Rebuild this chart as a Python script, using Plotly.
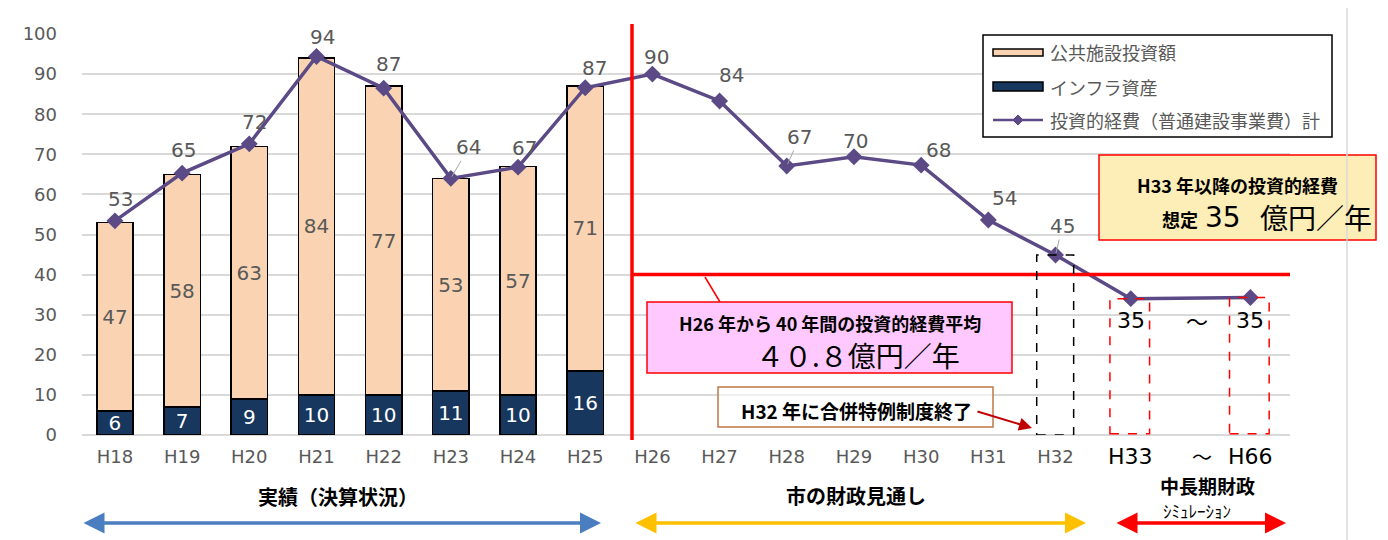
import plotly.graph_objects as go

# ---------------- data ----------------
years = ["H18", "H19", "H20", "H21", "H22", "H23", "H24", "H25",
         "H26", "H27", "H28", "H29", "H30", "H31", "H32"]
sim_years = ["H33", "H66"]
infra = [6, 7, 9, 10, 10, 11, 10, 16]            # インフラ資産
public = [47, 58, 63, 84, 77, 53, 57, 71]        # 公共施設投資額
invest = [53.4, 65.3, 72.6, 94.4, 86.5, 64.0, 66.8, 86.6,
          90.0, 83.3, 67.1, 69.4, 67.3, 53.6, 44.9]   # 投資的経費 計
invest_labels = ["53", "65", "72", "94", "87", "64", "67", "87",
                 "90", "84", "67", "70", "68", "54", "45"]
sim_invest = [34.0, 34.3]
sim_labels = ["35", "35"]
avg_line = 40.8

# ---------------- geometry helpers (reference pixel -> paper) ----------------
OFF = 8  # page body margin offset
L, R, T, B = 82, 1290, 34, 435
W, H = R - L, B - T
def px(x): return (x - L) / W
def py(y): return (B - y) / H

x_main = list(range(len(years)))
x_sim = [15.12, 16.9]
x_bar = x_main[:len(infra)]

GREY = "#595959"
NUMFONT = "DejaVu Sans"
JP = "Noto Sans CJK JP"
PURPLE = "#5B4A86"

fig = go.Figure()
fig.add_trace(go.Bar(
    x=x_bar, y=infra, width=0.54, name="インフラ資産",
    marker=dict(color="#17375E", line=dict(color="black", width=1.5)),
    text=[str(v) for v in infra], textposition="inside", insidetextanchor="middle",
    textangle=0, textfont=dict(color="white", size=20, family=NUMFONT), constraintext="none",
    showlegend=False))
fig.add_trace(go.Bar(
    x=x_bar, y=public, width=0.54, name="公共施設投資額",
    marker=dict(color="#FAD4B2", line=dict(color="black", width=1.5)),
    text=[str(v) for v in public], textposition="inside", insidetextanchor="middle",
    textangle=0, textfont=dict(color=GREY, size=20, family=NUMFONT), constraintext="none",
    showlegend=False))
fig.add_trace(go.Scatter(
    x=x_main + x_sim, y=invest + sim_invest, mode="lines+markers",
    name="投資的経費（普通建設事業費）計",
    line=dict(color=PURPLE, width=3.5),
    marker=dict(symbol="diamond", size=13, color=PURPLE),
    showlegend=False))

shapes = []
ann = []

def text_ann(x, y, text, size, color="black", family=JP, xanchor="center", **kw):
    d = dict(x=px(x), y=py(y), xref="paper", yref="paper", text=text, showarrow=False,
             xanchor=xanchor, yanchor="middle", font=dict(size=size, color=color, family=family))
    d.update(kw)
    ann.append(d)

# line value labels
offsets = [(6, -22), (1, -23), (5, -22), (6, -19), (5, -24), (18, -31), (6, -19), (9, -20),
           (4, -17), (12, -26), (13, -29), (2, -16), (17, -15), (16, -22), (7, -29)]
leader = {5, 10, 14}
for i, (xv, yv, lab) in enumerate(zip(x_main, invest, invest_labels)):
    dx, dy = offsets[i]
    if i in leader:
        ann.append(dict(x=xv, y=yv, xref="x", yref="y", text=lab, showarrow=True,
                        ax=dx, ay=dy, arrowhead=0, arrowwidth=1, arrowcolor="#A6A6A6",
                        standoff=2, font=dict(size=20, color=GREY, family=NUMFONT)))
    else:
        ann.append(dict(x=xv, y=yv, xref="x", yref="y", text=lab, showarrow=False,
                        xanchor="center", yanchor="middle",
                        xshift=dx, yshift=-dy, font=dict(size=20, color=GREY, family=NUMFONT)))

# simulation labels "35 〜 35"
for xv, lab in zip(x_sim, sim_labels):
    ann.append(dict(x=xv, y=py(320), xref="x", yref="paper", text=lab, showarrow=False,
                    xanchor="center", yanchor="middle",
                    font=dict(size=22, color="black", family=NUMFONT)))
text_ann(1197, 320, "〜", 22)
# H33 〜 H66 tick-like labels
for xv, lab in zip(x_sim, sim_years):
    ann.append(dict(x=xv, y=py(456), xref="x", yref="paper", text=lab, showarrow=False,
                    xanchor="center", yanchor="middle",
                    font=dict(size=22, color="black", family=NUMFONT)))
text_ann(1202, 456, "〜", 20)

# red average lines
shapes.append(dict(type="line", xref="paper", yref="y", x0=px(632), x1=1, y0=40, y1=40,
                   line=dict(color="#FF0000", width=3.5)))
shapes.append(dict(type="line", xref="paper", yref="paper", x0=px(632), x1=px(632),
                   y0=py(440), y1=py(24), line=dict(color="#FF0000", width=3.5)))
shapes.append(dict(type="line", xref="paper", yref="paper", x0=px(705), x1=px(720),
                   y0=py(277), y1=py(302), line=dict(color="#FF0000", width=1.5)))

# dashed boxes
shapes.append(dict(type="rect", xref="x", yref="y", x0=x_main[-1] - 0.28, x1=x_main[-1] + 0.27,
                   y0=0, y1=invest[-1], line=dict(color="black", width=1.5, dash="dash")))
for xv, yv in zip(x_sim, sim_invest):
    shapes.append(dict(type="rect", xref="x", yref="y", x0=xv - 0.31, x1=xv + 0.28,
                       y0=0.3, y1=yv, line=dict(color="#FF0000", width=1.5, dash="dash")))

# pink box
shapes.append(dict(type="rect", xref="paper", yref="paper", x0=px(647), x1=px(1012),
                   y0=py(373), y1=py(302), fillcolor="#FFC9FF",
                   line=dict(color="#FF0000", width=1.5), layer="above"))
text_ann(830, 323, "<b>H26 年から 40 年間の投資的経費平均</b>", 18)
text_ann(858, 355, "４０.８億円／年", 28)

# yellow box
shapes.append(dict(type="rect", xref="paper", yref="paper", x0=px(1099), x1=px(1376),
                   y0=py(240), y1=py(155), fillcolor="#FDEDB7",
                   line=dict(color="#FF0000", width=1.5), layer="above"))
text_ann(1237, 185, "<b>H33 年以降の投資的経費</b>", 18)
text_ann(1200, 219, "<b>想定</b>", 18, xanchor="right")
text_ann(1203, 217, "35", 28, family=NUMFONT, xanchor="left")
text_ann(1258, 217, "億円／年", 28, xanchor="left")

# brown box + arrow
shapes.append(dict(type="rect", xref="paper", yref="paper", x0=px(718), x1=px(993),
                   y0=py(427), y1=py(387), fillcolor="rgba(255,255,255,0.6)",
                   line=dict(color="#C07A45", width=1.5), layer="above"))
text_ann(856, 410, "<b>H32 年に合併特例制度終了</b>", 19)
ann.append(dict(x=px(1032), y=py(428), xref="paper", yref="paper", text="", showarrow=True,
                ax=-56, ay=-17, arrowhead=2, arrowsize=1.3, arrowwidth=2, arrowcolor="#C00000"))

# legend (custom)
shapes.append(dict(type="rect", xref="paper", yref="paper", x0=px(983), x1=px(1332),
                   y0=py(137), y1=py(35), fillcolor="white",
                   line=dict(color="black", width=1.5), layer="above"))
shapes.append(dict(type="rect", xref="paper", yref="paper", x0=px(993), x1=px(1043),
                   y0=py(56), y1=py(49), fillcolor="#FAD4B2",
                   line=dict(color="black", width=1.5), layer="above"))
shapes.append(dict(type="rect", xref="paper", yref="paper", x0=px(993), x1=px(1043),
                   y0=py(91), y1=py(82), fillcolor="#17375E",
                   line=dict(color="black", width=1.5), layer="above"))
shapes.append(dict(type="line", xref="paper", yref="paper", x0=px(993), x1=px(1043),
                   y0=py(120), y1=py(120), line=dict(color=PURPLE, width=2.5), layer="above"))
dpath = "M {a},{b} L {c},{d} L {e},{f} L {g},{h} Z".format(
    a=px(1013), b=py(120), c=px(1018), d=py(115), e=px(1023), f=py(120), g=px(1018), h=py(125))
shapes.append(dict(type="path", xref="paper", yref="paper", path=dpath,
                   fillcolor=PURPLE, line=dict(color=PURPLE, width=1), layer="above"))
for yy, lab in zip([52, 87, 120], ["公共施設投資額", "インフラ資産", "投資的経費（普通建設事業費）計"]):
    text_ann(1048, yy, lab, 18, color=GREY, xanchor="left")

# period labels & arrows
text_ann(338, 496, "<b>実績（決算状況）</b>", 20)
text_ann(856, 495, "<b>市の財政見通し</b>", 20)
text_ann(1207, 485, "<b>中長期財政</b>", 19)
text_ann(1197, 510, "ｼﾐｭﾚｰｼｮﾝ", 17)
for x0, x1, col in [(82, 601, "#4A7EC0"), (634, 1086, "#FFC000"), (1115, 1286, "#FF0000")]:
    ann.append(dict(x=px(x1), y=py(523), xref="paper", yref="paper", text="", showarrow=True,
                    ax=-(x1 - x0), ay=0, arrowside="end+start", arrowhead=2, arrowsize=1.2,
                    arrowwidth=3.5, arrowcolor=col))

# frame line (right)
shapes.append(dict(type="line", xref="paper", yref="paper", x0=px(1347), x1=px(1347),
                   y0=py(540), y1=py(OFF), line=dict(color="#D9D9D9", width=1.5)))

fig.update_layout(
    width=1388 - OFF, height=540 - OFF, autosize=False,
    margin=dict(l=L - OFF, r=1388 - R, t=T - OFF, b=540 - B),
    barmode="stack",
    plot_bgcolor="white", paper_bgcolor="white",
    xaxis=dict(range=[-0.49, 17.49], tickvals=x_main, ticktext=years,
               tickfont=dict(size=18, color=GREY, family=NUMFONT),
               showgrid=False, zeroline=False, showline=False, ticks="",
               ticklabelstandoff=9),
    yaxis=dict(range=[0, 100], dtick=10, tickfont=dict(size=18, color=GREY, family=NUMFONT),
               gridcolor="#D9D9D9", gridwidth=1.5, zeroline=True, zerolinecolor="#D9D9D9",
               zerolinewidth=1.5, showline=False, ticks="", ticklabelstandoff=24),
    shapes=shapes, annotations=ann, showlegend=False,
)

fig.write_html("out.html")
